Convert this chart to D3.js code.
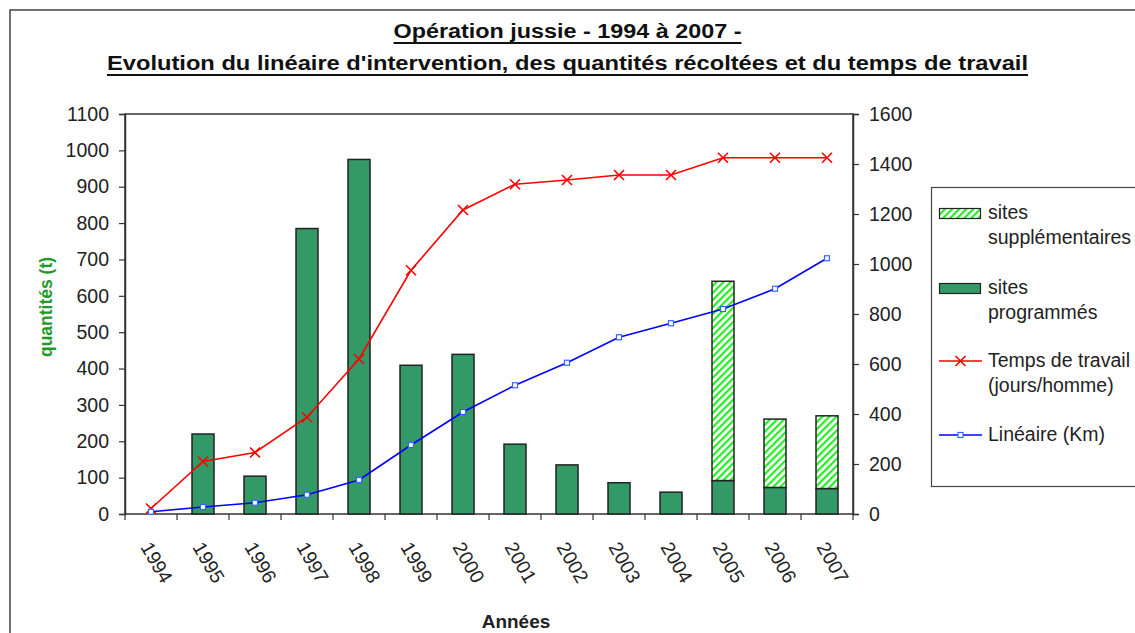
<!DOCTYPE html>
<html><head><meta charset="utf-8">
<script src="https://cdn.jsdelivr.net/npm/d3@7"></script>
<style>
html,body{margin:0;padding:0;background:#fff;}
svg{display:block;font-family:"Liberation Sans",Arial,sans-serif;}
</style></head>
<body>
<svg id="chart" width="1135" height="633"></svg>
<script>
const years = [1994,1995,1996,1997,1998,1999,2000,2001,2002,2003,2004,2005,2006,2007];
const sitesProgrammes = [0,220,104,785,975,409,439,192,135,86,60,92,73,70];
const sitesSupplementaires = [0,0,0,0,0,0,0,0,0,0,0,548,188,200];
const tempsTravail = [22,210,246,387,620,975,1216,1319,1336,1356,1356,1425,1425,1425];
const lineaire = [9,28,45,77,136,276,408,515,605,707,763,820,901,1023];
const leftTicks = d3.range(0,1101,100);
const rightTicks = d3.range(0,1601,200);
const titleLines = ["Opération jussie - 1994 à 2007 -","Evolution du linéaire d'intervention, des quantités récoltées et du temps de travail"];

const svg = d3.select("#chart");
const M = {left:125,right:853,top:114,bottom:514};
const textCol = "#222";
const fs = 19.5;

// outer frame (cut off at right/bottom)
svg.append("path").attr("d","M10,640 L10,10 L1140,10").attr("fill","none").attr("stroke","#444").attr("stroke-width",1.5);

// defs: hatch
const defs = svg.append("defs");
const pat = defs.append("pattern").attr("id","hatch").attr("patternUnits","userSpaceOnUse")
  .attr("width",5).attr("height",5).attr("patternTransform","rotate(45)");
pat.append("rect").attr("width",5).attr("height",5).attr("fill","#fff");
pat.append("rect").attr("x",0).attr("width",2.2).attr("height",5).attr("fill","#22ee22");

const x = d3.scaleBand().domain(years).range([M.left,M.right]).paddingInner(0).paddingOuter(0);
const yL = d3.scaleLinear().domain([0,1100]).range([M.bottom,M.top]);
const yR = d3.scaleLinear().domain([0,1600]).range([M.bottom,M.top]);

// titles
const tys=[38,70];
titleLines.forEach((t,i)=>{
  const tx = svg.append("text").attr("x",567.5).attr("y",tys[i]).attr("text-anchor","middle")
    .attr("font-size",20).attr("font-weight","bold").attr("fill","#111").text(t);
  const targetW = i===0?348:921;
  tx.attr("textLength",targetW).attr("lengthAdjust","spacingAndGlyphs");
  svg.append("line").attr("x1",567.5-targetW/2).attr("x2",567.5+targetW/2)
    .attr("y1",tys[i]+5).attr("y2",tys[i]+5).attr("stroke","#111").attr("stroke-width",2);
});

// plot frame
svg.append("rect").attr("x",M.left).attr("y",M.top).attr("width",M.right-M.left).attr("height",M.bottom-M.top)
  .attr("fill","none").attr("stroke","#333").attr("stroke-width",1.5);

// bars
const bw = 22;
const g = svg.append("g");
years.forEach((yr,i)=>{
  const cx = x(yr)+x.bandwidth()/2;
  if(sitesProgrammes[i]>0){
    g.append("rect").attr("x",cx-bw/2).attr("y",yL(sitesProgrammes[i])).attr("width",bw)
      .attr("height",yL(0)-yL(sitesProgrammes[i])).attr("fill","#339966").attr("stroke","#222").attr("stroke-width",1.5);
  }
  if(sitesSupplementaires[i]>0){
    const top = sitesProgrammes[i]+sitesSupplementaires[i];
    g.append("rect").attr("x",cx-bw/2).attr("y",yL(top)).attr("width",bw)
      .attr("height",yL(sitesProgrammes[i])-yL(top)).attr("fill","url(#hatch)").attr("stroke","#222").attr("stroke-width",1.5);
  }
});

// axes
const axL = svg.append("g").attr("transform",`translate(${M.left},0)`)
  .call(d3.axisLeft(yL).tickValues(leftTicks).tickSize(6).tickPadding(10).tickFormat(d3.format("d")));
const axR = svg.append("g").attr("transform",`translate(${M.right},0)`)
  .call(d3.axisRight(yR).tickValues(rightTicks).tickSize(6).tickPadding(10).tickFormat(d3.format("d")));
[axL,axR].forEach(a=>{
  a.select(".domain").attr("stroke","#333").attr("stroke-width",1.5);
  a.selectAll(".tick line").attr("stroke","#333").attr("stroke-width",1.2);
  a.selectAll(".tick text").attr("font-size",fs).attr("fill",textCol).attr("font-family","Liberation Sans, Arial, sans-serif");
});
// x ticks at band boundaries
const xTicks = years.map(y=>x(y)).concat([M.right]);
svg.append("g").selectAll("line").data(xTicks).join("line")
  .attr("x1",d=>d).attr("x2",d=>d).attr("y1",M.bottom).attr("y2",M.bottom+6).attr("stroke","#333").attr("stroke-width",1.2);
// x labels
svg.append("g").selectAll("text").data(years).join("text")
  .attr("transform",d=>`translate(${x(d)+x.bandwidth()/2-11},547) rotate(60)`)
  .attr("font-size",fs).attr("fill",textCol).text(d=>d);

// axis titles
svg.append("text").attr("x",516).attr("y",628).attr("text-anchor","middle").attr("font-size",19)
  .attr("font-weight","bold").attr("fill",textCol).text("Années");
svg.append("text").attr("transform","translate(52,307) rotate(-90)").attr("text-anchor","middle")
  .attr("font-size",17.5).attr("font-weight","bold").attr("fill","#1f9a2a").text("quantités (t)");

// lines
const cxf = (i)=>x(years[i])+x.bandwidth()/2;
const redLine = d3.line().x((d,i)=>cxf(i)).y(d=>yR(d));
svg.append("path").attr("d",redLine(tempsTravail)).attr("fill","none").attr("stroke","#ff0000").attr("stroke-width",1.6);
const xm = svg.append("g");
tempsTravail.forEach((v,i)=>{
  const cx=cxf(i), cy=yR(v), s=5;
  xm.append("path").attr("d",`M${cx-s},${cy-s}L${cx+s},${cy+s}M${cx-s},${cy+s}L${cx+s},${cy-s}`)
    .attr("stroke","#ff0000").attr("stroke-width",1.6);
});
const blueLine = d3.line().x((d,i)=>cxf(i)).y(d=>yR(d));
svg.append("path").attr("d",blueLine(lineaire)).attr("fill","none").attr("stroke","#0000ff").attr("stroke-width",1.6);
svg.append("g").selectAll("rect").data(lineaire).join("rect")
  .attr("x",(d,i)=>cxf(i)-2.5).attr("y",d=>yR(d)-2.5).attr("width",5).attr("height",5)
  .attr("fill","#fff").attr("stroke","#3366ff").attr("stroke-width",1.2);

// legend
const lg = svg.append("g");
lg.append("rect").attr("x",931.5).attr("y",187.5).attr("width",260).attr("height",299)
  .attr("fill","#fff").attr("stroke","#444").attr("stroke-width",1.2);
const legText = (lines, y0)=>{
  lines.forEach((t,k)=>lg.append("text").attr("x",988).attr("y",y0+k*25).attr("font-size",fs).attr("fill",textCol).text(t));
};
lg.append("rect").attr("x",939.5).attr("y",208.5).attr("width",41).attr("height",10).attr("fill","url(#hatch)").attr("stroke","#222").attr("stroke-width",1.2);
legText(["sites","supplémentaires"],219);
lg.append("rect").attr("x",939.5).attr("y",283.5).attr("width",41).attr("height",10).attr("fill","#339966").attr("stroke","#222").attr("stroke-width",1.2);
legText(["sites","programmés"],294);
lg.append("line").attr("x1",939).attr("x2",982).attr("y1",361).attr("y2",361).attr("stroke","#ff0000").attr("stroke-width",1.6);
lg.append("path").attr("d","M955.5,356L965.5,366M955.5,366L965.5,356").attr("stroke","#ff0000").attr("stroke-width",1.6);
legText(["Temps de travail","(jours/homme)"],367);
lg.append("line").attr("x1",939).attr("x2",982).attr("y1",435).attr("y2",435).attr("stroke","#0000ff").attr("stroke-width",1.6);
lg.append("rect").attr("x",958).attr("y",432.5).attr("width",5).attr("height",5).attr("fill","#fff").attr("stroke","#3366ff").attr("stroke-width",1.2);
legText(["Linéaire (Km)"],441);
</script>
</body></html>
